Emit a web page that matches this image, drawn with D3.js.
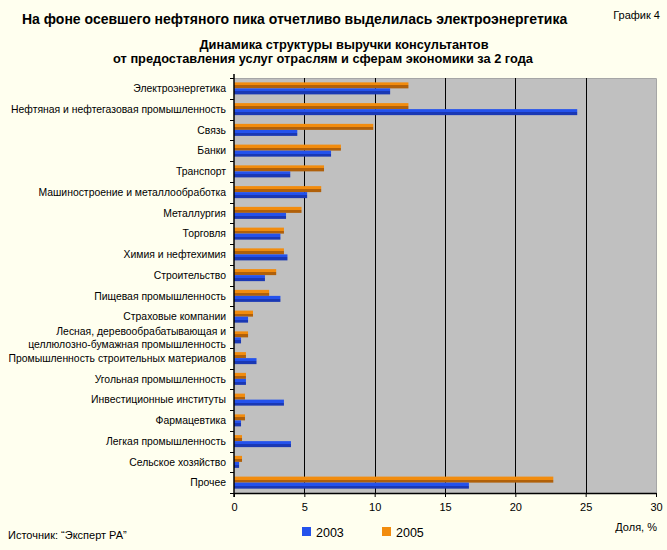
<!DOCTYPE html>
<html>
<head>
<meta charset="utf-8">
<script src="https://cdn.jsdelivr.net/npm/d3@7"></script>
<style>
  body { margin: 0; background: #ffffef; }
  svg text { font-family: "Liberation Sans", Arial, sans-serif; fill: #000; }
</style>
</head>
<body>
<svg id="chart"></svg>
<script>
const categories = [
  "Электроэнергетика",
  "Нефтяная и нефтегазовая промышленность",
  "Связь",
  "Банки",
  "Транспорт",
  "Машиностроение и металлообработка",
  "Металлургия",
  "Торговля",
  "Химия и нефтехимия",
  "Строительство",
  "Пищевая промышленность",
  "Страховые компании",
  "Лесная, деревообрабатывающая и\nцеллюлозно-бумажная промышленность",
  "Промышленность строительных материалов",
  "Угольная промышленность",
  "Инвестиционные институты",
  "Фармацевтика",
  "Легкая промышленность",
  "Сельское хозяйство",
  "Прочее"
]
const series = ["2005", "2003"]
const values2003 = [11.1, 24.4, 4.5, 6.9, 4.0, 5.2, 3.7, 3.3, 3.8, 2.2, 3.3, 1.0, 0.5, 1.6, 0.85, 3.55, 0.5, 4.05, 0.36, 16.7]
const values2005 = [12.4, 12.4, 9.9, 7.6, 6.4, 6.2, 4.8, 3.55, 3.55, 3.0, 2.5, 1.35, 1.0, 0.85, 0.85, 0.78, 0.78, 0.57, 0.57, 22.7]
const xTicks = [0, 5, 10, 15, 20, 25, 30]

const width = 667, height = 550
const plot = { left: 234, right: 656, top: 78, bottom: 493 }

const svg = d3.select("#chart").attr("width", width).attr("height", height)

const defs = svg.append("defs")
const grads = { "2003": ["#2452ec", "#1a38b4"], "2005": ["#f28c0e", "#b0600a"] }
Object.entries(grads).forEach(([k, c]) => {
  const g = defs.append("linearGradient").attr("id", "g" + k)
    .attr("x1", 0).attr("x2", 0).attr("y1", 0).attr("y2", 1)
  g.append("stop").attr("offset", "0%").attr("stop-color", c[0])
  g.append("stop").attr("offset", "50%").attr("stop-color", c[0])
  g.append("stop").attr("offset", "50%").attr("stop-color", c[1])
  g.append("stop").attr("offset", "100%").attr("stop-color", c[1])
})

const x = d3.scaleLinear().domain([0, 30]).range([plot.left, plot.right])
const y = d3.scaleBand().domain(categories).range([plot.top, plot.bottom])
  .paddingInner(0.42).paddingOuter(0.21)
const ySub = d3.scaleBand().domain(series).range([0, y.bandwidth()])

// plot background
svg.append("rect")
  .attr("x", plot.left).attr("y", plot.top)
  .attr("width", plot.right - plot.left).attr("height", plot.bottom - plot.top)
  .attr("fill", "#c0c0c0")
svg.append("path")
  .attr("d", `M${plot.left},${plot.top + 0.5}H${plot.right + 0.5}V${plot.bottom}`)
  .attr("fill", "none").attr("stroke", "#a6a6a6")

// gridlines
svg.append("g").selectAll("line")
  .data(xTicks.filter(d => d > 0 && d < 30))
  .join("line")
  .attr("x1", d => Math.round(x(d)) + 0.5).attr("x2", d => Math.round(x(d)) + 0.5)
  .attr("y1", plot.top).attr("y2", plot.bottom)
  .attr("stroke", "#000")

// bars
const rows = categories.map((c, i) => ({ cat: c, "2003": values2003[i], "2005": values2005[i] }))
const grp = svg.append("g").selectAll("g")
  .data(rows).join("g")
  .attr("transform", d => `translate(0,${y(d.cat)})`)
grp.selectAll("rect")
  .data(d => series.map(s => ({ s, v: d[s] })))
  .join("rect")
  .attr("x", x(0))
  .attr("y", d => ySub(d.s))
  .attr("width", d => x(d.v) - x(0))
  .attr("height", ySub.bandwidth())
  .attr("fill", d => `url(#g${d.s})`)

// axes
const xAxis = svg.append("g")
  .attr("transform", `translate(0,${plot.bottom})`)
  .call(d3.axisBottom(x).tickValues(xTicks).tickSizeInner(4).tickSizeOuter(0).tickPadding(6))
xAxis.select(".domain").attr("stroke", "#000").attr("stroke-width", 1.5)
xAxis.selectAll("text").attr("font-size", 11).attr("font-family", "Liberation Sans, Arial, sans-serif")

const yAxis = svg.append("g").attr("transform", `translate(${plot.left},0)`)
yAxis.append("line")
  .attr("x1", 0).attr("x2", 0).attr("y1", plot.top - 4).attr("y2", plot.bottom + 4)
  .attr("stroke", "#000").attr("stroke-width", 1.5)
const bounds = d3.range(categories.length + 1).map(i => plot.top + i * y.step())
yAxis.selectAll(".tk").data(bounds).join("line")
  .attr("x1", -4).attr("x2", 0)
  .attr("y1", d => Math.round(d) + 0.5).attr("y2", d => Math.round(d) + 0.5)
  .attr("stroke", "#000")

const labels = svg.append("g").selectAll("text")
  .data(categories).join("text")
  .attr("x", 226)
  .attr("y", d => y(d) + y.bandwidth() / 2)
  .attr("text-anchor", "end")
  .attr("font-size", 10.4)
labels.each(function (d) {
  const lines = d.split("\n")
  const t = d3.select(this)
  lines.forEach((ln, i) => {
    t.append("tspan").attr("x", 226)
      .attr("dy", i === 0 ? (0.35 - (lines.length - 1) * 0.6) + "em" : "1.25em")
      .text(ln)
  })
})

// titles
svg.append("text").attr("x", 22).attr("y", 24)
  .attr("font-size", 14).attr("font-weight", "bold")
  .text("На фоне осевшего нефтяного пика отчетливо выделилась электроэнергетика")
svg.append("text").attr("x", 660).attr("y", 19).attr("text-anchor", "end")
  .attr("font-size", 11).text("График 4")
svg.append("text").attr("x", 344).attr("y", 49).attr("text-anchor", "middle")
  .attr("font-size", 12.8).attr("font-weight", "bold")
  .text("Динамика структуры выручки консультантов")
svg.append("text").attr("x", 323).attr("y", 63).attr("text-anchor", "middle")
  .attr("font-size", 12.8).attr("font-weight", "bold")
  .text("от предоставления услуг отраслям и сферам экономики за 2 года")

svg.append("text").attr("x", 657).attr("y", 531).attr("text-anchor", "end")
  .attr("font-size", 11).text("Доля, %")
svg.append("text").attr("x", 8).attr("y", 539)
  .attr("font-size", 11).text("Источник: \u201CЭксперт РА\u201D")

// legend
const legendItems = [{ s: "2003", c: "#2452ec", x: 302 }, { s: "2005", c: "#f28c0e", x: 382 }]
const lg = svg.append("g").selectAll("g").data(legendItems).join("g")
  .attr("transform", d => `translate(${d.x},527)`)
lg.append("rect").attr("width", 9).attr("height", 9).attr("fill", d => d.c)
lg.append("text").attr("x", 14).attr("y", 9.5).attr("font-size", 12.5).text(d => d.s)
</script>
</body>
</html>
